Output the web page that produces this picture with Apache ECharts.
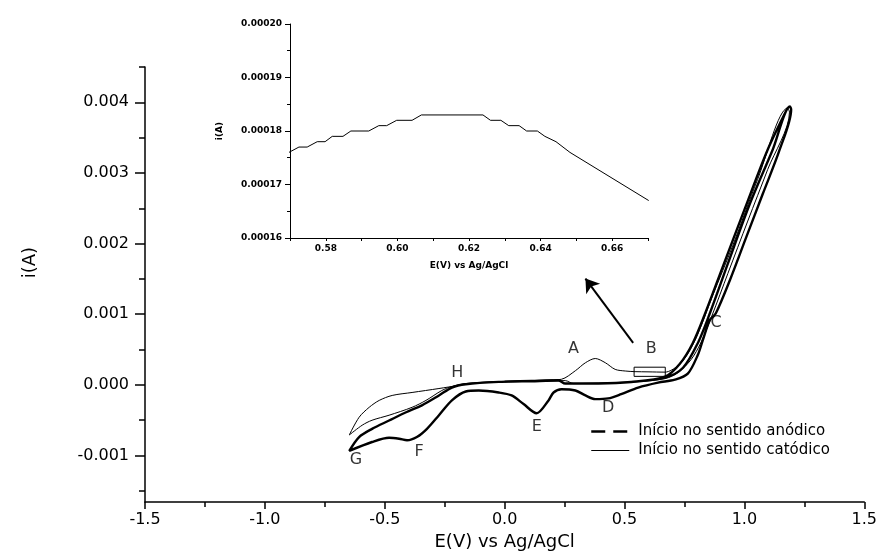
<!DOCTYPE html>
<html>
<head>
<meta charset="utf-8">
<script src="https://cdn.jsdelivr.net/npm/echarts@6/dist/echarts.min.js"></script>
<style>
  html, body { margin: 0; padding: 0; background: #fff; }
  #main { width: 880px; height: 556px; }
</style>
</head>
<body>
<div id="main"></div>
<script>
// varredura iniciada no sentido anódico (linha grossa)
const anodicE = [0.00, 0.112, 0.224, 0.253, 0.391, 0.528, 0.669, 0.744, 0.806, 0.856, 0.931, 1.022, 1.118, 1.19,
  1.195, 1.147, 1.076, 1.005, 0.939, 0.881, 0.856, 0.827, 0.806, 0.764, 0.71, 0.64, 0.557, 0.486, 0.432, 0.378,
  0.337, 0.295, 0.237, 0.204, 0.183, 0.133, 0.079, 0.029, -0.025, -0.108, -0.162, -0.220, -0.274, -0.324, -0.366,
  -0.407, -0.440, -0.482, -0.553, -0.648,
  -0.607, -0.553, -0.482, -0.411, -0.345, -0.274, -0.220, -0.162, -0.025, 0.112, 0.224, 0.253, 0.391, 0.528,
  0.669, 0.731, 0.785, 0.835, 0.910, 1.001, 1.097, 1.18];
const anodicI = [0.000046, 0.000056, 0.000065, 0.000018, 0.000018, 0.000042, 0.000102, 0.000242, 0.000593, 0.001014,
  0.001716, 0.002557, 0.003329, 0.00394,
  0.0039, 0.003329, 0.002698, 0.002067, 0.001478, 0.001014, 0.000917, 0.000636, 0.000425, 0.000159, 0.000074,
  0.000032, -0.000038, -0.000132, -0.000192, -0.000202, -0.00015, -0.00008, -0.000062, -0.000108, -0.00022,
  -0.000402, -0.000272, -0.00015, -0.000108, -0.00008, -0.000094, -0.000219, -0.00043, -0.000623, -0.000739,
  -0.000785, -0.000763, -0.000749, -0.000809, -0.000935,
  -0.000739, -0.000623, -0.000505, -0.000388, -0.00029, -0.00015, -0.000038, 0.000008, 0.000042, 0.000052,
  0.00006, 0.00002, 0.00002, 0.00004, 0.000116, 0.000299, 0.000593, 0.001, 0.001674, 0.002487, 0.003329, 0.00392];

// varredura iniciada no sentido catódico (linha fina)
const catodicE = [0.2, 0.112, -0.025, -0.162, -0.191, -0.274, -0.386, -0.469, -0.523, -0.565, -0.607, -0.648,
  -0.594, -0.553, -0.482, -0.386, -0.328, -0.262, -0.220, -0.162, -0.025, 0.141, 0.237, 0.295, 0.337, 0.378,
  0.42, 0.461, 0.503, 0.544, 0.598, 0.669, 0.723, 0.764, 0.806, 0.868, 0.951, 1.055, 1.18,
  1.188, 1.097, 1.014, 0.931, 0.864, 0.818, 0.777, 0.723, 0.669, 0.557, 0.391, 0.287, 0.253, 0.141, 0.0];
const catodicI = [0.000067, 0.00006, 0.000046, 0.000018, -0.000006, -0.000052, -0.000108, -0.00015, -0.00022,
  -0.000318, -0.000459, -0.00071,
  -0.000571, -0.000501, -0.00043, -0.000318, -0.00022, -0.00008, -0.000024, 0.000018, 0.000046, 0.00006,
  0.000079, 0.0002, 0.000313, 0.000373, 0.000313, 0.000219, 0.000196, 0.000187, 0.000184, 0.00018, 0.000271,
  0.000439, 0.00072, 0.001266, 0.001968, 0.002908, 0.003917,
  0.003861, 0.003048, 0.002319, 0.001576, 0.000973, 0.000593, 0.000355, 0.000173, 0.000088, 0.000046,
  0.000025, 0.000018, 0.00006, 0.000053, 0.00004];

// detalhe ampliado (0.57 - 0.67 V)
const insetE = [0.5697, 0.5725, 0.5748, 0.5776, 0.5798, 0.5818, 0.5848, 0.587, 0.592, 0.5948, 0.597, 0.5998,
  0.6041, 0.6067, 0.6239, 0.626, 0.6289, 0.6311, 0.634, 0.6361, 0.6391, 0.6412, 0.6443, 0.6482, 0.6702];
const insetI = [0.000176, 0.000177, 0.000177, 0.000178, 0.000178, 0.000179, 0.000179, 0.00018, 0.00018,
  0.000181, 0.000181, 0.000182, 0.000182, 0.000183, 0.000183, 0.000182, 0.000182, 0.000181, 0.000181,
  0.00018, 0.00018, 0.000179, 0.000178, 0.000176, 0.000167];

const letterNames = ['A', 'B', 'C', 'D', 'E', 'F', 'G', 'H'];
const letterE = [0.287, 0.611, 0.882, 0.432, 0.134, -0.357, -0.620, -0.198];
const letterI = [0.000513, 0.000513, 0.000874, -0.000332, -0.000599, -0.00095, -0.001066, 0.000173];

const boxE = [0.54, 0.67];
const boxI = [0.00012, 0.00025];
const arrowE = [0.536, 0.337];
const arrowI = [0.000593, 0.001505];

const mainYTicks = [-0.001, 0, 0.001, 0.002, 0.003, 0.004];
const mainYMinor = [-0.0015, -0.0005, 0.0005, 0.0015, 0.0025, 0.0035, 0.0045];
const legendNames = ['Início no sentido anódico', 'Início no sentido catódico'];

const FONT = 'DejaVu Sans';

function zip(xs, ys) {
  return xs.map((x, i) => [x, ys[i]]);
}

const chart = echarts.init(document.getElementById('main'), null, { renderer: 'canvas' });

const axisBlack = { onZero: false, lineStyle: { color: '#000', width: 1.5 } };

const option = {
  animation: false,
  backgroundColor: '#fff',
  color: ['#000'],
  textStyle: { fontFamily: FONT, color: '#000' },
  grid: [
    { left: 145, right: 13, top: 67, bottom: 50 },
    { left: 290, top: 24, width: 358, height: 214 }
  ],
  legend: {
    left: 585,
    top: 419,
    orient: 'vertical',
    itemWidth: 38,
    itemHeight: 14,
    itemGap: 4,
    textStyle: { fontSize: 15, color: '#000', fontFamily: FONT, padding: [0, 0, 0, 4] },
    data: [
      { name: legendNames[0], itemStyle: { opacity: 0 }, lineStyle: { type: [14, 8], width: 2.5, color: '#000' } },
      { name: legendNames[1], itemStyle: { opacity: 0 }, lineStyle: { width: 1, color: '#000' } }
    ]
  },
  xAxis: [
    {
      type: 'value', gridIndex: 0, min: -1.5, max: 1.5, interval: 0.5, position: 'bottom',
      name: 'E(V) vs Ag/AgCl', nameLocation: 'middle', nameGap: 28,
      nameTextStyle: { fontSize: 18, color: '#000' },
      axisLine: axisBlack,
      axisTick: { length: 7, lineStyle: { color: '#000', width: 1.5 } },
      minorTick: { show: true, splitNumber: 2, length: 5, lineStyle: { color: '#000', width: 1.5 } },
      splitLine: { show: false },
      axisLabel: { fontSize: 16, color: '#000', margin: 10, formatter: v => v.toFixed(1) }
    },
    {
      type: 'value', gridIndex: 1, min: 0.57, max: 0.67, interval: 0.01, position: 'bottom',
      name: 'E(V) vs Ag/AgCl', nameLocation: 'middle', nameGap: 23,
      nameTextStyle: { fontSize: 9, fontWeight: 'bold', color: '#000' },
      axisLine: { onZero: false, lineStyle: { color: '#000', width: 1 } },
      axisTick: { length: 3, lineStyle: { color: '#000' } },
      splitLine: { show: false },
      axisLabel: {
        fontSize: 9, fontWeight: 'bold', color: '#000', margin: 6,
        formatter: v => (Math.round(v * 100) % 2 === 0 ? v.toFixed(2) : '')
      }
    }
  ],
  yAxis: [
    {
      type: 'value', gridIndex: 0, min: -0.00166, max: 0.0045, position: 'left',
      name: 'i(A)', nameLocation: 'middle', nameGap: 106,
      nameTextStyle: { fontSize: 18, color: '#000', padding: [0, 0, 0, 44] },
      axisLine: { show: true, ...axisBlack },
      axisTick: { show: true, length: 10, customValues: mainYTicks, lineStyle: { color: '#000', width: 1.5 } },
      splitLine: { show: false },
      axisLabel: { fontSize: 16, color: '#000', margin: 16, customValues: mainYTicks, formatter: v => v.toFixed(3) }
    },
    {
      type: 'value', gridIndex: 0, min: -0.00166, max: 0.0045, position: 'left', offset: 0,
      axisLine: { show: false, onZero: false },
      axisTick: { show: true, length: 6, customValues: mainYMinor, lineStyle: { color: '#000', width: 1.5 } },
      splitLine: { show: false },
      axisLabel: { show: false }
    },
    {
      type: 'value', gridIndex: 1, min: 0.00016, max: 0.0002, interval: 0.00001, position: 'left',
      name: 'i(A)', nameLocation: 'middle', nameGap: 66,
      nameTextStyle: { fontSize: 9, fontWeight: 'bold', color: '#000' },
      axisLine: { show: true, onZero: false, lineStyle: { color: '#000', width: 1 } },
      axisTick: { show: true, length: 5, lineStyle: { color: '#000' } },
      minorTick: { show: true, splitNumber: 2, length: 3, lineStyle: { color: '#000' } },
      splitLine: { show: false },
      axisLabel: { fontSize: 9, fontWeight: 'bold', color: '#000', margin: 8, formatter: v => v.toFixed(5) }
    }
  ],
  series: [
    {
      name: legendNames[0],
      type: 'line', xAxisIndex: 0, yAxisIndex: 0,
      data: zip(anodicE, anodicI),
      symbol: 'none', smooth: 0.3,
      itemStyle: { color: '#000' },
      lineStyle: { color: '#000', width: 2.4 },
      silent: true
    },
    {
      name: legendNames[1],
      type: 'line', xAxisIndex: 0, yAxisIndex: 0,
      data: zip(catodicE, catodicI),
      symbol: 'none', smooth: 0.3,
      itemStyle: { color: '#000' },
      lineStyle: { color: '#000', width: 1 },
      silent: true,
      markArea: {
        silent: true,
        itemStyle: { color: 'rgba(0,0,0,0)', borderColor: '#000', borderWidth: 1 },
        data: [[{ coord: [boxE[0], boxI[1]] }, { coord: [boxE[1], boxI[0]] }]]
      },
      markLine: {
        silent: true,
        symbol: ['none', 'arrow'],
        symbolSize: 13,
        label: { show: false },
        lineStyle: { color: '#000', width: 2, type: 'solid' },
        data: [[{ coord: [arrowE[0], arrowI[0]] }, { coord: [arrowE[1], arrowI[1]] }]]
      }
    },
    {
      type: 'scatter', xAxisIndex: 0, yAxisIndex: 0,
      symbolSize: 0, silent: true,
      data: letterNames.map((n, i) => ({ name: n, value: [letterE[i], letterI[i]] })),
      label: { show: true, position: 'inside', formatter: '{b}', fontSize: 16, color: '#000' }
    },
    {
      type: 'line', xAxisIndex: 1, yAxisIndex: 2,
      data: zip(insetE, insetI),
      symbol: 'none',
      lineStyle: { color: '#000', width: 1 },
      silent: true
    }
  ]
};

chart.setOption(option);
</script>
</body>
</html>
